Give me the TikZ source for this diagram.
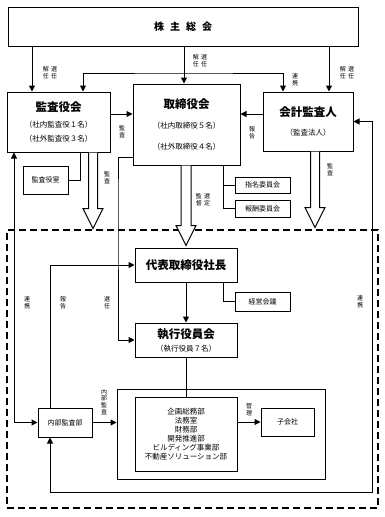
\documentclass[tikz,border=0pt]{standalone}
\usepackage{fontspec}
\setmainfont{Noto Sans CJK JP}
\usetikzlibrary{arrows.meta,positioning,calc}

\begin{document}
\begin{tikzpicture}[
    x=1pt, y=-1pt,
    box/.style={rectangle, draw, line width=1pt, inner sep=1pt, align=center},
    smallbox/.style={box, font=\fontsize{7}{8}\selectfont},
    lbl/.style={inner sep=0pt, align=center, font=\fontsize{6}{6.8}\selectfont},
    arrow/.style={-{Triangle[length=6pt,width=6pt]}, line width=1pt},
    both/.style={{Triangle[length=6pt,width=6pt]}-{Triangle[length=6pt,width=6pt]}, line width=1pt},
    line/.style={line width=1pt},
    fat/.style={line width=1pt, fill=white, line join=miter}
]
\useasboundingbox (0,0) rectangle (385,517);

% executive frame
\node[draw, line width=1.2pt, dash pattern=on 7pt off 4pt, minimum width=371pt, minimum height=278pt, inner sep=0pt] (waku) at (192.5,369) {};

% upper boxes
\node[box, minimum width=350pt, minimum height=39pt, font=\bfseries\fontsize{10}{12}\selectfont] (soukai) at (183,26.5) {株\hspace{6pt}主\hspace{6pt}総\hspace{6pt}会};
\node[box, minimum width=103pt, minimum height=60pt, font=\fontsize{7.5}{14}\selectfont] (kansa) at (58.5,122)
    {{\bfseries\fontsize{11.5}{13}\selectfont 監査役会}\\[2pt]（社内監査役１名）\\（社外監査役３名）};
\node[box, minimum width=107pt, minimum height=81pt, font=\fontsize{7.5}{21}\selectfont] (torishimari) at (186.5,124.5)
    {{\bfseries\fontsize{11.5}{13}\selectfont 取締役会}\\[-1pt]（社内取締役５名）\\（社外取締役４名）};
\node[box, minimum width=90pt, minimum height=59pt, font=\fontsize{7.5}{19}\selectfont] (kaikei) at (308,121.5)
    {{\bfseries\fontsize{11.5}{13}\selectfont 会計監査人}\\（監査法人）};
\node[smallbox, minimum width=45pt, minimum height=28pt] (kansashitsu) at (45.5,180) {監査役室};
\node[smallbox, minimum width=55pt, minimum height=16pt] (shimei) at (262.5,185) {指名委員会};
\node[smallbox, minimum width=55pt, minimum height=17pt] (houshu) at (262.5,208.5) {報酬委員会};

% executive side
\node[box, minimum width=102pt, minimum height=34pt, font=\bfseries\fontsize{11.5}{13}\selectfont] (daihyo) at (186,265) {代表取締役社長};
\node[smallbox, minimum width=55pt, minimum height=19pt] (keiei) at (262.5,301.5) {経営会議};
\node[box, minimum width=102pt, minimum height=34pt, font=\fontsize{7.5}{13}\selectfont] (shikko) at (186,340)
    {{\bfseries\fontsize{11.5}{13}\selectfont 執行役員会}\\（執行役員７名）};
\node[box, minimum width=208pt, minimum height=90pt] (gyomu) at (221,434) {};
\node[box, minimum width=102pt, minimum height=74pt, font=\fontsize{7.5}{9}\selectfont] (bumon) at (186,434)
    {企画総務部\\法務室\\財務部\\開発推進部\\ビルディング事業部\\不動産ソリューション部};
\node[smallbox, minimum width=53pt, minimum height=28pt] (kogaisha) at (287.5,422) {子会社};
\node[smallbox, minimum width=54pt, minimum height=29pt] (naibu) at (65,422.5) {内部監査部};

% shareholders
\draw[arrow] (soukai.south -| 32,0) -- (kansa.north -| 32,0);
\draw[arrow] (soukai.south -| 184,0) -- (torishimari.north -| 184,0);
\draw[arrow] (soukai.south -| 329,0) -- (kaikei.north -| 329,0);
\draw[both] (kansa.north -| 83,0) |- (184,73) -| (kaikei.north -| 283,0);

% audit and report
\draw[arrow] (kansa.east |- 0,114) -- (torishimari.west |- 0,114);
\draw[arrow] (kaikei.west |- 0,114) -- (torishimari.east |- 0,114);
\draw[line] (kansa.south -| 80,0) |- (kansashitsu.east);
\draw[line] (torishimari.south -| 223,0) |- (houshu.west);
\draw[line] (shimei.west) -- (shimei.west -| 223,0);

% fat arrows
\foreach \n/\x/\w/\l in {kansa/93/4.5/56, torishimari/186/5/60, kaikei/315/4.5/56}
  \draw[fat] (\n.south -| \x,0) ++(-\w,0) -- ++(0,\l) -- ++(\w-10,0) -- ++(10,20) -- ++(10,-20) -- ++(\w-10,0) -- ++(0,-\l);

% executive lines
\draw[line] (daihyo.south -| 223,0) |- (keiei.west);
\draw[arrow] (daihyo.south) -- (shikko.north);
\draw[line] (shikko.south) -- (bumon.north);
\draw[arrow] (bumon.east |- kogaisha.west) -- (kogaisha.west);
\draw[arrow] (naibu.east) -- (naibu.east -| gyomu.west);
\draw[arrow] (naibu.north -| 50,0) |- (daihyo.west);
\draw[arrow] (torishimari.west |- 0,157) -| (118,200) |- (shikko.west);
\draw[both] (kansa.south -| 14,0) |- (naibu.west);
\draw[both] (kaikei.east) -| (372,492) -| (naibu.south -| 50,0);

% labels
\node[lbl] (l1) at (50,73) {解\hspace{2.5pt}選\\任\hspace{2.5pt}任};
\node[lbl] (l2) at (200,61) {解\hspace{2.5pt}選\\任\hspace{2.5pt}任};
\node[lbl] (l3) at (347,73) {解\hspace{2.5pt}選\\任\hspace{2.5pt}任};
\node[lbl] (l4) at (295,80) {連\\携};
\node[lbl] (l5) at (122,132) {監\\査};
\node[lbl] (l6) at (252,133) {報\\告};
\node[lbl] (l7) at (107,178) {監\\査};
\node[lbl] (l8) at (330,170) {監\\査};
\node[lbl] (l9) at (203,200) {監\hspace{2.5pt}選\\督\hspace{2.5pt}定};
\node[lbl] (l10) at (27,303) {連\\携};
\node[lbl] (l11) at (63,303) {報\\告};
\node[lbl] (l12) at (107,303) {選\\任};
\node[lbl] (l13) at (360,302) {連\\携};
\node[lbl] (l14) at (104,402) {内\\部\\監\\査};
\node[lbl] (l15) at (249,410) {管\\理};
\end{tikzpicture}
\end{document}
